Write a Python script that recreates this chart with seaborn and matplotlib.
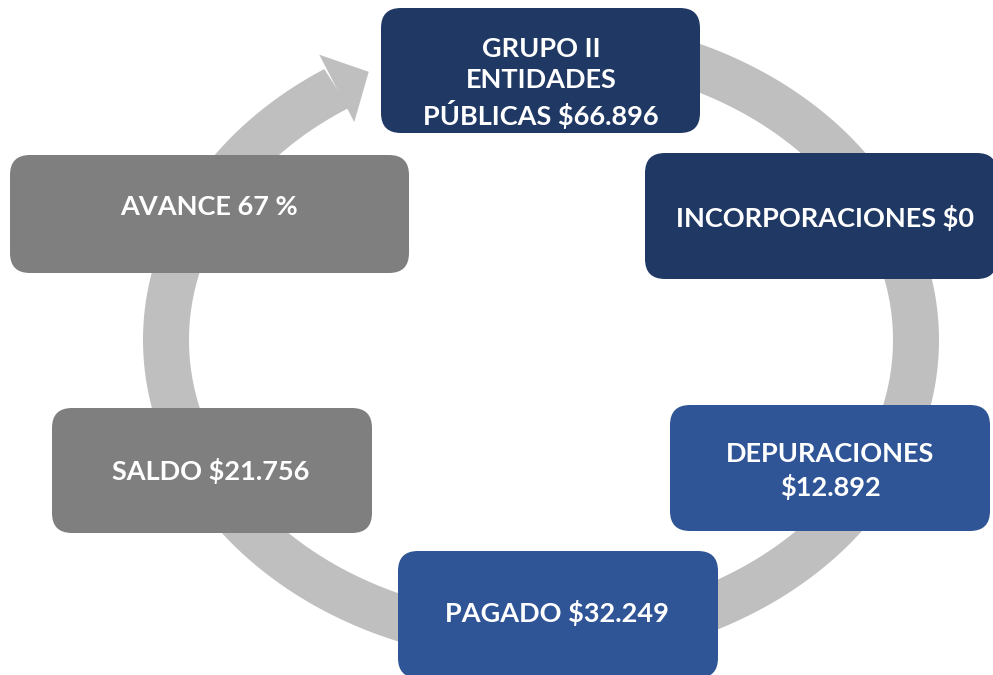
import numpy as np
import matplotlib
matplotlib.use("Agg")
import matplotlib.pyplot as plt
from matplotlib.patches import FancyBboxPatch, Polygon
import seaborn as sns

# textos de cada etapa del ciclo (en orden horario, desde arriba)
textos = [
    "GRUPO II\nENTIDADES\nPÚBLICAS $66.896",
    "INCORPORACIONES $0",
    "DEPURACIONES\n$12.892",
    "PAGADO $32.249",
    "SALDO $21.756",
    "AVANCE 67 %",
]
# cajas en pixeles: x, y (arriba), ancho, alto
cajas_x = [381, 645, 670, 398, 52, 10]
cajas_y = [8, 153, 405, 551, 408, 155]
cajas_w = [319, 352, 320, 320, 320, 399]
cajas_h = [125, 126, 126, 127, 125, 118]
texto_x = [541, 825, 830, 557, 211, 209]
texto_y = [83, 218, 471, 613, 471, 207]
colores = ["#203864", "#203864", "#2F5597", "#2F5597", "#7F7F7F", "#7F7F7F"]

sns.set_theme(style="white")
plt.rcParams["font.family"] = ["Lato", "DejaVu Sans"]

fig = plt.figure(figsize=(9.93, 6.75), dpi=100)
ax = fig.add_axes([0, 0, 1, 1])
ax.set_xlim(0, 993)
ax.set_ylim(675, 0)
ax.axis("off")

# flecha circular (elipse) en gris
cx, cy, a, b, w = 541, 340, 375, 300, 46
t = np.radians(np.linspace(-85, 237, 400))
ext_x = cx + (a + w / 2) * np.cos(t)
ext_y = cy + (b + w / 2) * np.sin(t)
int_x = cx + (a - w / 2) * np.cos(t)
int_y = cy + (b - w / 2) * np.sin(t)
anillo = np.column_stack([np.r_[ext_x, int_x[::-1]], np.r_[ext_y, int_y[::-1]]])
ax.add_patch(Polygon(anillo, closed=True, color="#BFBFBF", lw=0, zorder=1))

# punta de flecha
t1 = t[-1]
px, py = cx + a * np.cos(t1), cy + b * np.sin(t1)
tg = np.array([-a * np.sin(t1), b * np.cos(t1)])
tg = tg / np.linalg.norm(tg)
nr = np.array([-tg[1], tg[0]])
punta = np.array([
    [px, py] + nr * 38,
    [px, py] + tg * 36,
    [px, py] - nr * 38,
])
ax.add_patch(Polygon(punta, closed=True, color="#BFBFBF", lw=0, zorder=1))

for i, txt in enumerate(textos):
    ax.add_patch(FancyBboxPatch((cajas_x[i], cajas_y[i]), cajas_w[i], cajas_h[i],
                                boxstyle="round,pad=0,rounding_size=20",
                                fc=colores[i], ec="none", zorder=2))
    ax.text(texto_x[i], texto_y[i], txt, ha="center", va="center", color="white",
            fontsize=19.5, fontweight="bold", linespacing=1.32, zorder=3)

fig.savefig("out.png", dpi=100)
